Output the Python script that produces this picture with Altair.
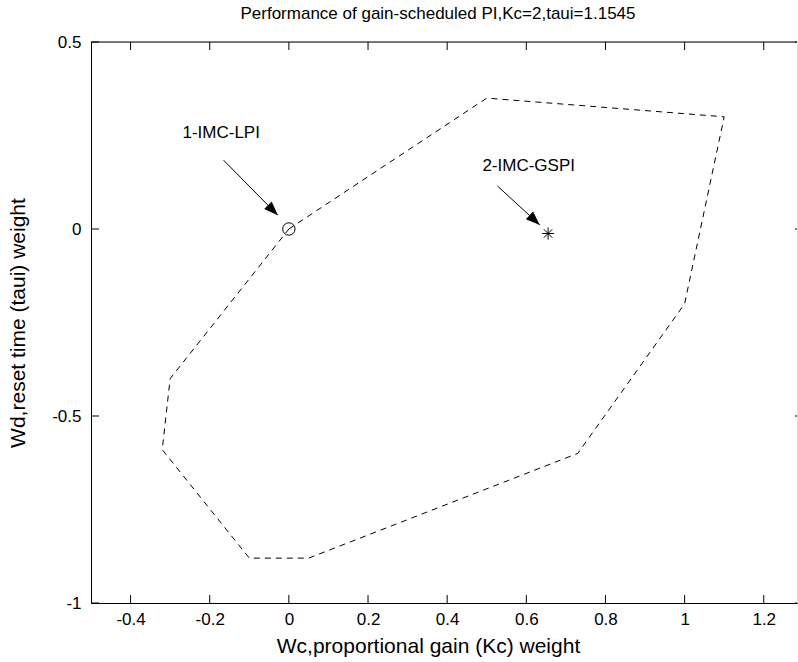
import math
import altair as alt
import pandas as pd

# ---- data ----
title_text = "Performance of gain-scheduled PI,Kc=2,taui=1.1545"
x_title = "Wc,proportional gain (Kc) weight"
y_title = "Wd,reset time (taui) weight"

x_domain = [-0.5, 1.284]
y_domain = [-1.0, 0.5]
x_ticks = [-0.4, -0.2, 0.0, 0.2, 0.4, 0.6, 0.8, 1.0, 1.2]
y_ticks = [-1.0, -0.5, 0.0, 0.5]

# boundary (dashed loop)
bound_x = [0.0, 0.5, 1.1, 1.0, 0.73, 0.05, -0.1, -0.32, -0.3, 0.0]
bound_y = [0.0, 0.35, 0.30, -0.2, -0.6, -0.88, -0.88, -0.59, -0.4, 0.0]

# operating points
lpi_x, lpi_y = [0.0], [0.0]
gspi_x, gspi_y = [0.655], [-0.012]

# annotations
ann_text = ["1-IMC-LPI", "2-IMC-GSPI"]
ann_tx = [-0.171, 0.606]
ann_ty = [0.257, 0.168]
arrow_x0 = [-0.165, 0.527]
arrow_y0 = [0.184, 0.115]
arrow_x1 = [-0.028, 0.634]
arrow_y1 = [0.037, 0.011]

# ---- layout ----
W, H = 706, 561
FONT = "Liberation Sans"
FS = 17
FS_AX = 21
px_per_x = W / (x_domain[1] - x_domain[0])
px_per_y = H / (y_domain[1] - y_domain[0])

xs = alt.Scale(domain=x_domain, nice=False, zero=False)
ys = alt.Scale(domain=y_domain, nice=False, zero=False)

bound_df = pd.DataFrame({"x": bound_x, "y": bound_y, "i": list(range(len(bound_x)))})
lpi_df = pd.DataFrame({"x": lpi_x, "y": lpi_y})
gspi_df = pd.DataFrame({"x": gspi_x, "y": gspi_y})
ann_df = pd.DataFrame({"t": ann_text, "x": ann_tx, "y": ann_ty})
angles = [
    math.degrees(math.atan2((x1 - x0) * px_per_x, (y1 - y0) * px_per_y))
    for x0, y0, x1, y1 in zip(arrow_x0, arrow_y0, arrow_x1, arrow_y1)
]
arr_df = pd.DataFrame({"x0": arrow_x0, "y0": arrow_y0, "x1": arrow_x1, "y1": arrow_y1, "a": angles})
xt_df = pd.DataFrame({"v": x_ticks})
yt_df = pd.DataFrame({"v": y_ticks})
title_df = pd.DataFrame({"t": [title_text]})

x_axis = alt.Axis(values=x_ticks, ticks=False, grid=False, domainColor="black", domainWidth=1,
                  labelFont=FONT, labelFontSize=FS, labelColor="black", labelPadding=8,
                  labelFlush=False, labelExpr="toString(datum.value)",
                  title=x_title, titleFont=FONT, titleFontSize=FS_AX, titleFontWeight="normal",
                  titleColor="black", titleX=337, titleY=43, titleBaseline="middle")
y_axis = alt.Axis(values=y_ticks, ticks=False, grid=False, domainColor="black", domainWidth=1,
                  labelFont=FONT, labelFontSize=FS, labelColor="black", labelPadding=10,
                  labelFlush=False, labelExpr="toString(datum.value)",
                  title=y_title, titleFont=FONT, titleFontSize=FS_AX, titleFontWeight="normal",
                  titleColor="black", titleX=-73, titleBaseline="middle")

boundary = alt.Chart(bound_df).mark_line(
    color="black", strokeWidth=1, strokeDash=[6, 5], clip=True
).encode(
    x=alt.X("x:Q", scale=xs, axis=x_axis),
    y=alt.Y("y:Q", scale=ys, axis=y_axis),
    order="i:Q",
)

lpi = alt.Chart(lpi_df).mark_point(
    shape="circle", size=154, filled=False, color="black", strokeWidth=1, opacity=1
).encode(x=alt.X("x:Q", scale=xs), y=alt.Y("y:Q", scale=ys))

gspi = alt.Chart(gspi_df).mark_point(
    shape="M-1,0L1,0M0,-1L0,1M-0.7,-0.7L0.7,0.7M-0.7,0.7L0.7,-0.7",
    size=144, filled=False, color="black", strokeWidth=1, opacity=1
).encode(x=alt.X("x:Q", scale=xs), y=alt.Y("y:Q", scale=ys))

arrow_line = alt.Chart(arr_df).mark_rule(color="black", strokeWidth=1).encode(
    x=alt.X("x0:Q", scale=xs), y=alt.Y("y0:Q", scale=ys), x2="x1:Q", y2="y1:Q"
)
arrow_head = alt.Chart(arr_df).mark_point(
    shape="M0,0L-0.38,1L0.38,1Z", size=784, filled=True, color="black", opacity=1
).encode(
    x=alt.X("x1:Q", scale=xs), y=alt.Y("y1:Q", scale=ys), angle=alt.Angle("a:Q", scale=None)
)

labels = alt.Chart(ann_df).mark_text(
    font=FONT, fontSize=FS, color="black", align="center", baseline="middle"
).encode(x=alt.X("x:Q", scale=xs), y=alt.Y("y:Q", scale=ys), text="t:N")

TL = 8
bottom_ticks = alt.Chart(xt_df).mark_rule(color="black", strokeWidth=1).encode(
    x=alt.X("v:Q", scale=xs), y=alt.value(H), y2=alt.value(H - TL))
top_ticks = alt.Chart(xt_df).mark_rule(color="black", strokeWidth=1).encode(
    x=alt.X("v:Q", scale=xs), y=alt.value(0), y2=alt.value(TL))
left_ticks = alt.Chart(yt_df).mark_rule(color="black", strokeWidth=1).encode(
    y=alt.Y("v:Q", scale=ys), x=alt.value(0), x2=alt.value(TL))
right_ticks = alt.Chart(yt_df).mark_rule(color="black", strokeWidth=1).encode(
    y=alt.Y("v:Q", scale=ys), x=alt.value(W), x2=alt.value(W - 2))
top_border = alt.Chart(title_df).mark_rule(color="black", strokeWidth=1).encode(
    x=alt.value(0), x2=alt.value(W), y=alt.value(0))

title = alt.Chart(title_df).mark_text(
    font=FONT, fontSize=FS, color="black", align="center", baseline="middle"
).encode(x=alt.value(347), y=alt.value(-28), text="t:N")

chart = alt.layer(
    boundary, lpi, gspi, arrow_line, arrow_head, labels,
    bottom_ticks, top_ticks, left_ticks, right_ticks, top_border, title
).properties(
    width=W, height=H,
    padding={"left": 91, "top": 42, "right": 1, "bottom": 59},
    autosize=alt.AutoSizeParams(type="none"),
).configure_view(stroke=None).configure(background="white")

chart.save("out.html", embed_options={"renderer": "svg", "actions": False})
